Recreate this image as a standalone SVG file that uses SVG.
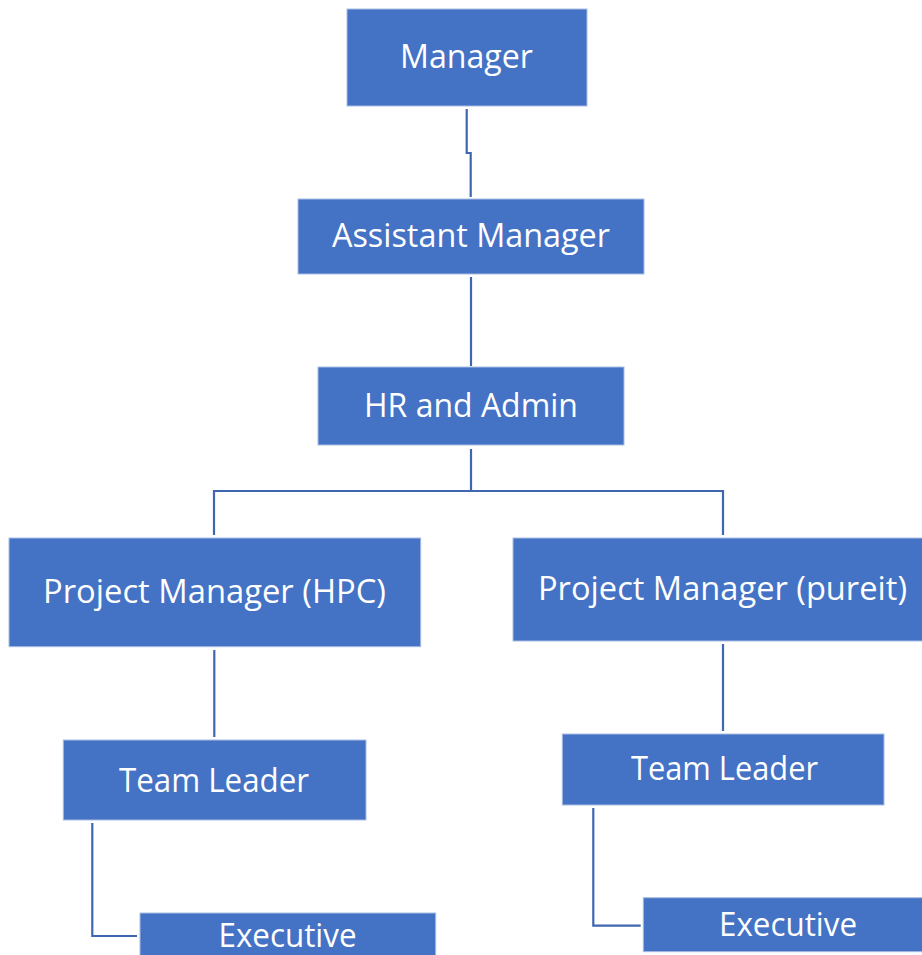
<svg xmlns="http://www.w3.org/2000/svg" width="922" height="955" viewBox="0 0 922 955">
  <style>
    .box { fill: #4472C4; stroke: #A9BDE3; stroke-width: 1; }
    .lbl { font-family: "Open Sans", "Noto Sans", "Liberation Sans", sans-serif; font-size: 33px; fill: #FFFFFF; text-anchor: middle; }
    .wire { fill: none; stroke: #3F67B1; stroke-width: 2.2; }
  </style>
  <rect width="922" height="955" fill="#FFFFFF"/>

  <g id="connectors">
    <path class="wire" d="M466.7,109 V153 H470.7 V197"/>
    <path class="wire" d="M471,277 V366"/>
    <path class="wire" d="M471,449 V491"/>
    <path class="wire" d="M214,535 V491 H723 V535"/>
    <path class="wire" d="M214.3,650 V737"/>
    <path class="wire" d="M723,644 V731"/>
    <path class="wire" d="M92.3,823 V936 H137"/>
    <path class="wire" d="M593.3,808 V925.7 H640.7"/>
  </g>

  <g id="manager">
    <rect class="box" x="347" y="9" width="240" height="97"/>
    <text class="lbl" x="466.5" y="68" textLength="133" lengthAdjust="spacingAndGlyphs">Manager</text>
  </g>
  <g id="assistant-manager">
    <rect class="box" x="298" y="199" width="346" height="75"/>
    <text class="lbl" x="471" y="247" textLength="278" lengthAdjust="spacingAndGlyphs">Assistant Manager</text>
  </g>
  <g id="hr-admin">
    <rect class="box" x="318" y="367" width="306" height="78"/>
    <text class="lbl" x="471" y="417" textLength="214" lengthAdjust="spacingAndGlyphs">HR and Admin</text>
  </g>
  <g id="pm-hpc">
    <rect class="box" x="9" y="538" width="411.7" height="108.7"/>
    <text class="lbl" x="214.5" y="603" textLength="343" lengthAdjust="spacingAndGlyphs">Project Manager (HPC)</text>
  </g>
  <g id="pm-pureit">
    <rect class="box" x="513" y="538" width="410" height="103"/>
    <text class="lbl" x="722.5" y="600" textLength="369" lengthAdjust="spacingAndGlyphs">Project Manager (pureit)</text>
  </g>
  <g id="team-leader-hpc">
    <rect class="box" x="63.3" y="740" width="302.7" height="80"/>
    <text class="lbl" x="214" y="791.7" textLength="190" lengthAdjust="spacingAndGlyphs">Team Leader</text>
  </g>
  <g id="team-leader-pureit">
    <rect class="box" x="562.3" y="734" width="321.7" height="71"/>
    <text class="lbl" x="724.5" y="780" textLength="187" lengthAdjust="spacingAndGlyphs">Team Leader</text>
  </g>
  <g id="executive-hpc">
    <rect class="box" x="140" y="913" width="295.7" height="50"/>
    <text class="lbl" x="287.5" y="947" textLength="138" lengthAdjust="spacingAndGlyphs">Executive</text>
  </g>
  <g id="executive-pureit">
    <rect class="box" x="643.3" y="897.7" width="280" height="54"/>
    <text class="lbl" x="788" y="936" textLength="138" lengthAdjust="spacingAndGlyphs">Executive</text>
  </g>
</svg>
